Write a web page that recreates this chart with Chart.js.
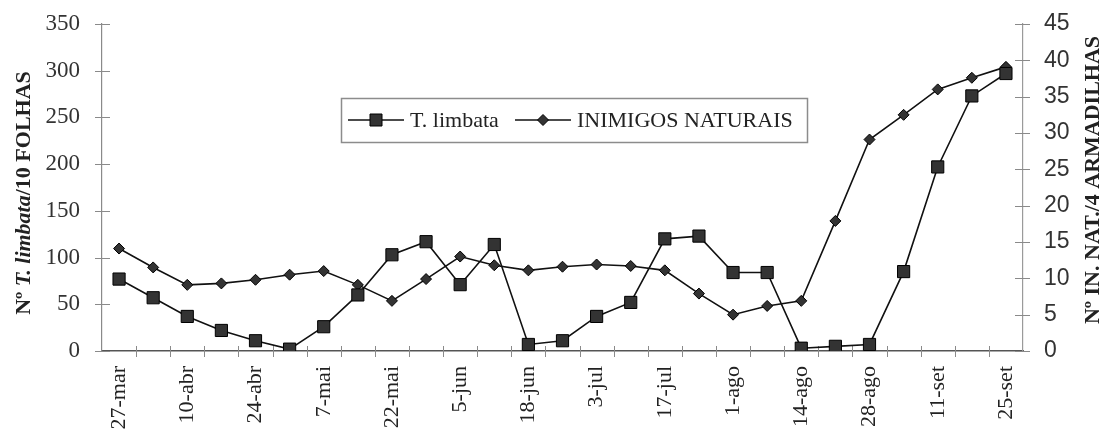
<!DOCTYPE html>
<html>
<head>
<meta charset="utf-8">
<script src="https://cdn.jsdelivr.net/npm/chart.js@4.4.1/dist/chart.umd.min.js"></script>
<style>
  html, body { margin: 0; padding: 0; background: #fff; }
  #box { width: 1107px; height: 443px; position: relative; }
</style>
</head>
<body>
<div id="box"><canvas id="grafico"></canvas></div>
<script>
// amostras semanais, so as quinzenais levam rotulo
var datas = ['27-mar', '', '10-abr', '', '24-abr', '', '7-mai', '', '22-mai', '', '5-jun', '', '18-jun', '',
             '3-jul', '', '17-jul', '', '1-ago', '', '14-ago', '', '28-ago', '', '11-set', '', '25-set'];
var limbata = [77, 57, 37, 22, 11, 2, 26, 60, 103, 117, 71, 114, 7, 11,
               37, 52, 120, 123, 84, 84, 3, 5, 7, 85, 197, 273, 297];
var inimigos = [14.1, 11.5, 9.1, 9.3, 9.8, 10.5, 11.0, 9.1, 6.9, 9.9, 13.0, 11.8, 11.1, 11.6,
                11.9, 11.7, 11.1, 7.9, 5.0, 6.2, 6.9, 17.9, 29.1, 32.5, 36.0, 37.6, 39.1];
var ticksEsq = [0, 50, 100, 150, 200, 250, 300, 350];
var ticksDir = [0, 5, 10, 15, 20, 25, 30, 35, 40, 45];

var serif = "'Liberation Serif', 'Times New Roman', serif";
var sans = "'Liberation Sans', Arial, sans-serif";

function marcador(ctx, tipo, x, y) {
  ctx.beginPath();
  if (tipo === 'rect') {
    ctx.rect(x - 6, y - 6, 12, 12);
  } else {
    ctx.moveTo(x, y - 5.5); ctx.lineTo(x + 5.5, y); ctx.lineTo(x, y + 5.5); ctx.lineTo(x - 5.5, y); ctx.closePath();
  }
  ctx.fillStyle = '#333';
  ctx.fill();
  ctx.lineWidth = 1;
  ctx.strokeStyle = '#000';
  ctx.stroke();
}

// zera o recuo automatico para a area do grafico ficar onde pedimos
function semRecuo(s) {
  s.paddingTop = 0; s.paddingBottom = 0; s.paddingLeft = 0; s.paddingRight = 0;
}

var extras = {
  id: 'extras',
  beforeDatasetsDraw: function(chart) {
    var ctx = chart.ctx, a = chart.chartArea;
    var x = chart.scales.x, yl = chart.scales.y, yr = chart.scales.y1;
    ctx.save();
    ctx.lineWidth = 1;
    ctx.strokeStyle = '#8a8a8a';
    ctx.beginPath();
    for (var i = 1; i < datas.length; i++) {
      var px = Math.round(x.getPixelForValue(i - 0.5)) + 0.5;
      ctx.moveTo(px, a.bottom - 5); ctx.lineTo(px, a.bottom + 6);
    }
    yl.ticks.forEach(function(t) {
      var py = Math.round(yl.getPixelForValue(t.value)) + 0.5;
      ctx.moveTo(a.left - 7, py); ctx.lineTo(a.left + 8, py);
    });
    yr.ticks.forEach(function(t) {
      var py = Math.round(yr.getPixelForValue(t.value)) + 0.5;
      ctx.moveTo(a.right - 8, py); ctx.lineTo(a.right + 7, py);
    });
    ctx.stroke();
    ctx.restore();
  },
  afterDraw: function(chart) {
    var ctx = chart.ctx;
    var ds = chart.data.datasets;
    ctx.save();

    // legenda
    ctx.strokeStyle = '#8c8c8c';
    ctx.lineWidth = 1.5;
    ctx.strokeRect(341.5, 98.5, 466, 44);
    var itens = [
      { x0: 348, x1: 404, mx: 376, tx: 410, tipo: 'rect' },
      { x0: 515, x1: 571, mx: 543, tx: 577, tipo: 'rectRot' }
    ];
    itens.forEach(function(it, k) {
      ctx.strokeStyle = '#111';
      ctx.lineWidth = 1.6;
      ctx.beginPath(); ctx.moveTo(it.x0, 120); ctx.lineTo(it.x1, 120); ctx.stroke();
      marcador(ctx, it.tipo, it.mx, 120);
      ctx.fillStyle = '#222';
      ctx.font = '22px ' + serif;
      ctx.textBaseline = 'middle';
      ctx.textAlign = 'left';
      ctx.fillText(ds[k].label, it.tx, 121);
    });

    // titulo do eixo esquerdo, com parte em italico
    var partes = [
      { t: 'Nº ', f: 'bold 22px ' + serif },
      { t: 'T. limbata', f: 'italic bold 22px ' + serif },
      { t: '/10 FOLHAS', f: 'bold 22px ' + serif }
    ];
    var total = 0;
    partes.forEach(function(p) { ctx.font = p.f; p.w = ctx.measureText(p.t).width; total += p.w; });
    ctx.translate(24, 193);
    ctx.rotate(-Math.PI / 2);
    ctx.fillStyle = '#222';
    ctx.textAlign = 'left';
    ctx.textBaseline = 'middle';
    var px = -total / 2;
    partes.forEach(function(p) { ctx.font = p.f; ctx.fillText(p.t, px, 0); px += p.w; });
    ctx.setTransform(1, 0, 0, 1, 0, 0);

    // titulo do eixo direito
    ctx.translate(1093, 180);
    ctx.rotate(-Math.PI / 2);
    ctx.font = 'bold 22px ' + serif;
    ctx.textAlign = 'center';
    ctx.fillText('Nº IN. NAT./4 ARMADILHAS', 0, 0);
    ctx.restore();
  }
};

var ctx = document.getElementById('grafico').getContext('2d');
var grafico = new Chart(ctx, {
  type: 'line',
  data: {
    labels: datas,
    datasets: [{
      label: 'T. limbata',
      data: limbata,
      yAxisID: 'y',
      borderColor: '#111',
      borderWidth: 1.6,
      pointStyle: 'rect',
      pointRadius: 8.6,
      pointBackgroundColor: '#333',
      pointBorderColor: '#000',
      pointBorderWidth: 1,
      tension: 0
    }, {
      label: 'INIMIGOS NATURAIS',
      data: inimigos,
      yAxisID: 'y1',
      borderColor: '#111',
      borderWidth: 1.6,
      pointStyle: 'rectRot',
      pointRadius: 5.5,
      pointBackgroundColor: '#333',
      pointBorderColor: '#000',
      pointBorderWidth: 1,
      tension: 0
    }]
  },
  options: {
    responsive: true,
    maintainAspectRatio: false,
    animation: false,
    layout: { padding: { top: 24, left: 0, right: 0, bottom: 0 } },
    plugins: {
      legend: { display: false },
      tooltip: { enabled: false }
    },
    scales: {
      x: {
        offset: true,
        grid: { display: false, drawTicks: false },
        border: { display: true, color: '#555', width: 1.5 },
        ticks: {
          autoSkip: false,
          maxRotation: 90,
          minRotation: 90,
          padding: 15,
          color: '#222',
          font: { family: serif, size: 22 }
        },
        afterFit: function(s) { s.height = 92; semRecuo(s); }
      },
      y: {
        position: 'left',
        min: 0,
        max: 350,
        afterBuildTicks: function(s) { s.ticks = ticksEsq.map(function(v) { return { value: v }; }); },
        grid: { display: false, drawTicks: false },
        border: { display: true, color: '#8a8a8a', width: 1.2 },
        ticks: { padding: 22, color: '#333', font: { family: serif, size: 23 } },
        afterFit: function(s) { s.width = 102; semRecuo(s); }
      },
      y1: {
        position: 'right',
        min: 0,
        max: 45,
        afterBuildTicks: function(s) { s.ticks = ticksDir.map(function(v) { return { value: v }; }); },
        grid: { display: false, drawTicks: false },
        border: { display: true, color: '#9a9a9a', width: 1.2 },
        ticks: { padding: 21, color: '#333', font: { family: sans, size: 23 } },
        afterFit: function(s) { s.width = 84; semRecuo(s); }
      }
    }
  },
  plugins: [extras]
});
</script>
</body>
</html>
